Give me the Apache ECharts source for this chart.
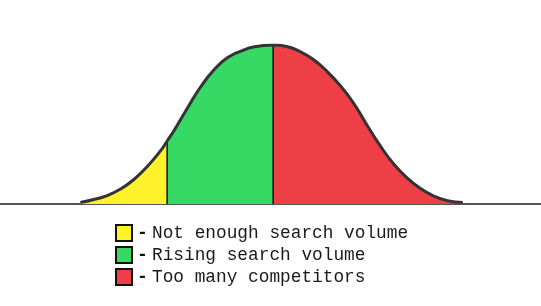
<!DOCTYPE html>
<html>
<head>
<meta charset="utf-8">
<script src="https://cdn.jsdelivr.net/npm/echarts@6/dist/echarts.min.js"></script>
<style>html,body{margin:0;padding:0;background:#fff}#c{width:541px;height:306px}</style>
</head>
<body>
<div id="c"></div>
<script>
// Curve (x: arbitrary units, y: % of peak)
const curveX = [-36, -33.5, -31, -28.5, -26, -23.5, -21, -19.8, -18.5, -16, -13.5, -11, -8.5, -6, -3.5, 0, 2.5, 5, 7.5, 10, 12.5, 15, 17.5, 20, 22.5, 25, 27.5, 30, 32.5, 35.4];
const curveY = [0.9, 2.8, 5.3, 9.4, 15.4, 23.6, 33.6, 39.6, 46.2, 60.4, 73.9, 84.6, 92.1, 96.2, 98.9, 100, 99.1, 95.9, 90.9, 83.6, 74.5, 63.5, 49.7, 36.5, 25.2, 16.4, 9.7, 5.0, 2.1, 0.9];
const splitX = [-19.8, 0];
const regionNames = ['Not enough search volume', 'Rising search volume', 'Too many competitors'];
const regionColors = ['#FFF22A', '#35D964', '#EF3F46'];

const pts = curveX.map((x, i) => [x, curveY[i]]);
const bounds = [-Infinity, ...splitX, Infinity];
const SM = 0.5;
const series = [];
regionNames.forEach((name, r) => {
  const seg = pts.filter(p => p[0] >= bounds[r] && p[0] <= bounds[r + 1]);
  series.push({
    name, type: 'line', data: seg, smooth: SM, symbol: 'none', silent: true,
    itemStyle: { color: regionColors[r] },
    lineStyle: { width: 0 },
    areaStyle: { color: regionColors[r], opacity: 1 },
    z: 2
  });
});
splitX.forEach(sx => {
  const i = curveX.indexOf(sx);
  series.push({
    type: 'line', data: [[sx, 0], [sx, curveY[i]]], symbol: 'none', silent: true,
    lineStyle: { color: '#111', width: 1.5 }, z: 3
  });
});
series.push({
  type: 'line', data: pts, smooth: SM, symbol: 'none', silent: true,
  lineStyle: { color: '#333', width: 3 }, z: 4
});

const chart = echarts.init(document.getElementById('c'), null, { renderer: 'canvas' });
chart.setOption({
  animation: false,
  backgroundColor: '#fff',
  grid: { left: 0, right: 0, top: 45, bottom: 102 },
  xAxis: {
    type: 'value', min: -51, max: 50,
    axisLine: { show: true, onZero: true, lineStyle: { color: '#555', width: 2 } },
    axisTick: { show: false }, axisLabel: { show: false }, splitLine: { show: false }
  },
  yAxis: {
    type: 'value', min: 0, max: 100,
    axisLine: { show: false }, axisTick: { show: false }, axisLabel: { show: false }, splitLine: { show: false }
  },
  legend: {
    orient: 'vertical', left: 115, top: 224, padding: 0,
    icon: 'rect', itemWidth: 16, itemHeight: 16, itemGap: 4,
    selectedMode: false,
    data: regionNames.map((n, r) => ({ name: n, itemStyle: { color: regionColors[r], borderColor: '#111', borderWidth: 2 } })),
    formatter: n => '{d|-}{t|' + n + '}',
    textStyle: {
      rich: {
        d: { fontFamily: 'Liberation Mono', fontWeight: 'bold', fontSize: 18, color: '#111', width: 15, lineHeight: 16 },
        t: { fontFamily: 'Liberation Mono', fontSize: 17.8, color: '#1a1a1a', lineHeight: 16 }
      }
    }
  },
  series
});
</script>
</body>
</html>
